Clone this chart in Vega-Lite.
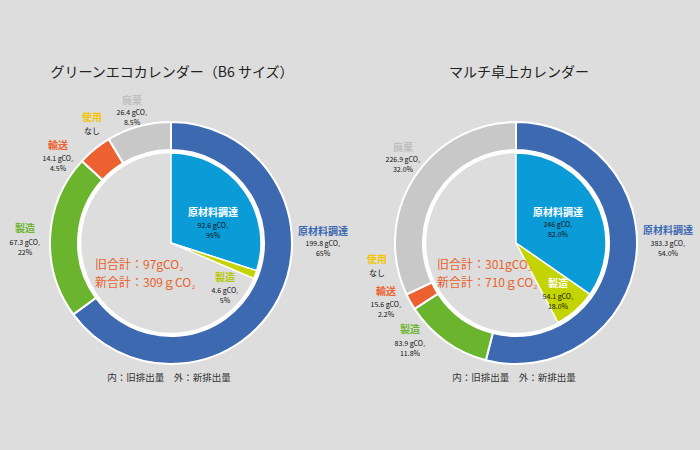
{
  "$schema": "https://vega.github.io/schema/vega-lite/v6.json",
  "background": "#dcdddc",
  "padding": {"left": 5, "top": 36, "right": 8, "bottom": 0},
  "bounds": "flush",
  "spacing": 13,
  "config": {"view": {"stroke": null}, "font": "Noto Sans CJK JP"},
  "hconcat": [
    {
      "width": 332,
      "height": 414,
      "data": {"values": [
        {"ring": "外", "stage": 1, "cat": "原材料調達", "value": 199.8, "detail": "199.8 gCO₂\n65%"},
        {"ring": "外", "stage": 2, "cat": "製造", "value": 67.3, "detail": "67.3 gCO₂\n22%"},
        {"ring": "外", "stage": 3, "cat": "輸送", "value": 14.1, "detail": "14.1 gCO₂\n4.5%"},
        {"ring": "外", "stage": 4, "cat": "使用", "value": 0, "detail": "なし"},
        {"ring": "外", "stage": 5, "cat": "廃棄", "value": 26.4, "detail": "26.4 gCO₂\n8.5%"},
        {"ring": "内", "stage": 1, "cat": "原材料調達", "value": 92.6, "detail": "92.6 gCO₂\n95%"},
        {"ring": "内", "stage": 2, "cat": "製造", "value": 4.6, "detail": "4.6 gCO₂\n5%"}
      ]},
      "layer": [
        {
          "transform": [{"filter": "datum.ring === '外'"}],
          "mark": {"type": "arc", "radius": 121, "radius2": 93, "stroke": "#ffffff", "strokeWidth": 2},
          "encoding": {
            "theta": {"field": "value", "type": "quantitative", "stack": true},
            "order": {"field": "stage", "type": "quantitative"},
            "color": {"field": "cat", "type": "nominal", "legend": null,
              "scale": {"domain": ["原材料調達", "製造", "輸送", "使用", "廃棄"], "range": ["#3d69b1", "#6ab42e", "#ec612f", "#f5c400", "#c8c8c8"]}}
          }
        },
        {
          "data": {"values": [{}]},
          "mark": {"type": "arc", "radius": 91, "theta": 0, "theta2": 6.2832, "fill": "#dcdddc", "stroke": "#ffffff", "strokeWidth": 2.5},
          "encoding": {}
        },
        {
          "transform": [{"filter": "datum.ring === '内'"}],
          "mark": {"type": "arc", "radius": 90, "stroke": "#ffffff", "strokeWidth": 1.5},
          "encoding": {
            "theta": {"field": "value", "type": "quantitative", "stack": true, "scale": {"domain": [0, 309]}},
            "order": {"field": "stage", "type": "quantitative"},
            "color": {"field": "cat", "type": "nominal", "legend": null,
              "scale": {"domain": ["原材料調達", "製造"], "range": ["#0b9bd7", "#c3d400"]}}
          }
        },
        {
          "transform": [{"filter": "datum.ring === '外' && datum.cat === '原材料調達'"}],
          "layer": [
            {"mark": {"type": "text", "dx": 152, "dy": -11, "fontSize": 10, "fontWeight": "bold", "fill": "#3d69b1", "baseline": "middle"}, "encoding": {"text": {"field": "cat"}}},
            {"mark": {"type": "text", "dx": 152, "dy": -3, "fontSize": 7, "lineHeight": 9.5, "lineBreak": "\n", "fill": "#111111", "baseline": "top"}, "encoding": {"text": {"field": "detail"}}}
          ]
        },
        {
          "transform": [{"filter": "datum.ring === '外' && datum.cat === '製造'"}],
          "layer": [
            {"mark": {"type": "text", "dx": -146, "dy": -14, "fontSize": 10, "fontWeight": "bold", "fill": "#6ab42e", "baseline": "middle"}, "encoding": {"text": {"field": "cat"}}},
            {"mark": {"type": "text", "dx": -146, "dy": -4, "fontSize": 7, "lineHeight": 9.5, "lineBreak": "\n", "fill": "#111111", "baseline": "top"}, "encoding": {"text": {"field": "detail"}}}
          ]
        },
        {
          "transform": [{"filter": "datum.ring === '外' && datum.cat === '輸送'"}],
          "layer": [
            {"mark": {"type": "text", "dx": -113, "dy": -97, "fontSize": 10, "fontWeight": "bold", "fill": "#ec612f", "baseline": "middle"}, "encoding": {"text": {"field": "cat"}}},
            {"mark": {"type": "text", "dx": -113, "dy": -88, "fontSize": 7, "lineHeight": 9.5, "lineBreak": "\n", "fill": "#111111", "baseline": "top"}, "encoding": {"text": {"field": "detail"}}}
          ]
        },
        {
          "transform": [{"filter": "datum.ring === '外' && datum.cat === '使用'"}],
          "layer": [
            {"mark": {"type": "text", "dx": -79, "dy": -125, "fontSize": 10, "fontWeight": "bold", "fill": "#f5c400", "baseline": "middle"}, "encoding": {"text": {"field": "cat"}}},
            {"mark": {"type": "text", "dx": -79, "dy": -115, "fontSize": 8, "lineHeight": 9.5, "lineBreak": "\n", "fill": "#111111", "baseline": "top"}, "encoding": {"text": {"field": "detail"}}}
          ]
        },
        {
          "transform": [{"filter": "datum.ring === '外' && datum.cat === '廃棄'"}],
          "layer": [
            {"mark": {"type": "text", "dx": -39, "dy": -142, "fontSize": 10, "fontWeight": "bold", "fill": "#c0c0c0", "baseline": "middle"}, "encoding": {"text": {"field": "cat"}}},
            {"mark": {"type": "text", "dx": -39, "dy": -134, "fontSize": 7, "lineHeight": 9.5, "lineBreak": "\n", "fill": "#111111", "baseline": "top"}, "encoding": {"text": {"field": "detail"}}}
          ]
        },
        {
          "transform": [{"filter": "datum.ring === '内' && datum.cat === '原材料調達'"}],
          "layer": [
            {"mark": {"type": "text", "dx": 42, "dy": -30, "fontSize": 10, "fontWeight": "bold", "fill": "#ffffff", "baseline": "middle"}, "encoding": {"text": {"field": "cat"}}},
            {"mark": {"type": "text", "dx": 42, "dy": -21, "fontSize": 7, "lineHeight": 9.5, "lineBreak": "\n", "fill": "#111111", "baseline": "top"}, "encoding": {"text": {"field": "detail"}}}
          ]
        },
        {
          "transform": [{"filter": "datum.ring === '内' && datum.cat === '製造'"}],
          "layer": [
            {"mark": {"type": "text", "dx": 54, "dy": 35, "fontSize": 10, "fontWeight": "bold", "fill": "#b5c800", "baseline": "middle"}, "encoding": {"text": {"field": "cat"}}},
            {"mark": {"type": "text", "dx": 54, "dy": 44, "fontSize": 7, "lineHeight": 10, "lineBreak": "\n", "fill": "#111111", "baseline": "top"}, "encoding": {"text": {"field": "detail"}}}
          ]
        },
        {
          "data": {"values": [{}]},
          "layer": [
            {"mark": {"type": "text", "text": "グリーンエコカレンダー（B6 サイズ）", "dx": 1, "dy": -170, "fontSize": 14, "fill": "#222222", "baseline": "middle"}, "encoding": {}},
            {"mark": {"type": "text", "text": "内：旧排出量　外：新排出量", "dx": -2, "dy": 135, "fontSize": 9.5, "fill": "#333333", "baseline": "middle"}, "encoding": {}},
            {"mark": {"type": "text", "text": "旧合計：97gCO₂", "dx": -76, "dy": 22, "fontSize": 12, "fill": "#e9622c", "align": "left", "baseline": "middle"}, "encoding": {}},
            {"mark": {"type": "text", "text": "新合計：309ｇCO₂", "dx": -76, "dy": 40, "fontSize": 12, "fill": "#e9622c", "align": "left", "baseline": "middle"}, "encoding": {}}
          ]
        }
      ],
      "resolve": {"scale": {"theta": "independent", "color": "independent"}}
    },
    {
      "width": 332,
      "height": 414,
      "data": {"values": [
        {"ring": "外", "stage": 1, "cat": "原材料調達", "value": 383.3, "detail": "383.3 gCO₂\n54.0%"},
        {"ring": "外", "stage": 2, "cat": "製造", "value": 83.9, "detail": "83.9 gCO₂\n11.8%"},
        {"ring": "外", "stage": 3, "cat": "輸送", "value": 15.6, "detail": "15.6 gCO₂\n2.2%"},
        {"ring": "外", "stage": 4, "cat": "使用", "value": 0, "detail": "なし"},
        {"ring": "外", "stage": 5, "cat": "廃棄", "value": 226.9, "detail": "226.9 gCO₂\n32.0%"},
        {"ring": "内", "stage": 1, "cat": "原材料調達", "value": 246, "detail": "246 gCO₂\n82.0%"},
        {"ring": "内", "stage": 2, "cat": "製造", "value": 54.1, "detail": "54.1 gCO₂\n18.0%"}
      ]},
      "layer": [
        {
          "transform": [{"filter": "datum.ring === '外'"}],
          "mark": {"type": "arc", "radius": 121, "radius2": 93, "stroke": "#ffffff", "strokeWidth": 2},
          "encoding": {
            "theta": {"field": "value", "type": "quantitative", "stack": true},
            "order": {"field": "stage", "type": "quantitative"},
            "color": {"field": "cat", "type": "nominal", "legend": null,
              "scale": {"domain": ["原材料調達", "製造", "輸送", "使用", "廃棄"], "range": ["#3d69b1", "#6ab42e", "#ec612f", "#f5c400", "#c8c8c8"]}}
          }
        },
        {
          "data": {"values": [{}]},
          "mark": {"type": "arc", "radius": 91, "theta": 0, "theta2": 6.2832, "fill": "#dcdddc", "stroke": "#ffffff", "strokeWidth": 2.5},
          "encoding": {}
        },
        {
          "transform": [{"filter": "datum.ring === '内'"}],
          "mark": {"type": "arc", "radius": 90, "stroke": "#ffffff", "strokeWidth": 1.5},
          "encoding": {
            "theta": {"field": "value", "type": "quantitative", "stack": true, "scale": {"domain": [0, 710]}},
            "order": {"field": "stage", "type": "quantitative"},
            "color": {"field": "cat", "type": "nominal", "legend": null,
              "scale": {"domain": ["原材料調達", "製造"], "range": ["#0b9bd7", "#c3d400"]}}
          }
        },
        {
          "transform": [{"filter": "datum.ring === '外' && datum.cat === '原材料調達'"}],
          "layer": [
            {"mark": {"type": "text", "dx": 152, "dy": -12, "fontSize": 10, "fontWeight": "bold", "fill": "#3d69b1", "baseline": "middle"}, "encoding": {"text": {"field": "cat"}}},
            {"mark": {"type": "text", "dx": 152, "dy": -3, "fontSize": 7, "lineHeight": 9.5, "lineBreak": "\n", "fill": "#111111", "baseline": "top"}, "encoding": {"text": {"field": "detail"}}}
          ]
        },
        {
          "transform": [{"filter": "datum.ring === '外' && datum.cat === '製造'"}],
          "layer": [
            {"mark": {"type": "text", "dx": -106, "dy": 87, "fontSize": 10, "fontWeight": "bold", "fill": "#6ab42e", "baseline": "middle"}, "encoding": {"text": {"field": "cat"}}},
            {"mark": {"type": "text", "dx": -106, "dy": 97, "fontSize": 7, "lineHeight": 9.5, "lineBreak": "\n", "fill": "#111111", "baseline": "top"}, "encoding": {"text": {"field": "detail"}}}
          ]
        },
        {
          "transform": [{"filter": "datum.ring === '外' && datum.cat === '輸送'"}],
          "layer": [
            {"mark": {"type": "text", "dx": -130, "dy": 49, "fontSize": 10, "fontWeight": "bold", "fill": "#ec612f", "baseline": "middle"}, "encoding": {"text": {"field": "cat"}}},
            {"mark": {"type": "text", "dx": -130, "dy": 58, "fontSize": 7, "lineHeight": 9.5, "lineBreak": "\n", "fill": "#111111", "baseline": "top"}, "encoding": {"text": {"field": "detail"}}}
          ]
        },
        {
          "transform": [{"filter": "datum.ring === '外' && datum.cat === '使用'"}],
          "layer": [
            {"mark": {"type": "text", "dx": -139, "dy": 17, "fontSize": 10, "fontWeight": "bold", "fill": "#f5c400", "baseline": "middle"}, "encoding": {"text": {"field": "cat"}}},
            {"mark": {"type": "text", "dx": -139, "dy": 27, "fontSize": 8, "lineHeight": 9.5, "lineBreak": "\n", "fill": "#111111", "baseline": "top"}, "encoding": {"text": {"field": "detail"}}}
          ]
        },
        {
          "transform": [{"filter": "datum.ring === '外' && datum.cat === '廃棄'"}],
          "layer": [
            {"mark": {"type": "text", "dx": -113, "dy": -95, "fontSize": 10, "fontWeight": "bold", "fill": "#c0c0c0", "baseline": "middle"}, "encoding": {"text": {"field": "cat"}}},
            {"mark": {"type": "text", "dx": -113, "dy": -87, "fontSize": 7, "lineHeight": 10, "lineBreak": "\n", "fill": "#111111", "baseline": "top"}, "encoding": {"text": {"field": "detail"}}}
          ]
        },
        {
          "transform": [{"filter": "datum.ring === '内' && datum.cat === '原材料調達'"}],
          "layer": [
            {"mark": {"type": "text", "dx": 42, "dy": -30, "fontSize": 10, "fontWeight": "bold", "fill": "#ffffff", "baseline": "middle"}, "encoding": {"text": {"field": "cat"}}},
            {"mark": {"type": "text", "dx": 42, "dy": -22, "fontSize": 7, "lineHeight": 10, "lineBreak": "\n", "fill": "#111111", "baseline": "top"}, "encoding": {"text": {"field": "detail"}}}
          ]
        },
        {
          "transform": [{"filter": "datum.ring === '内' && datum.cat === '製造'"}],
          "layer": [
            {"mark": {"type": "text", "dx": 42, "dy": 41, "fontSize": 10, "fontWeight": "bold", "fill": "#ffffff", "baseline": "middle"}, "encoding": {"text": {"field": "cat"}}},
            {"mark": {"type": "text", "dx": 42, "dy": 50, "fontSize": 7, "lineHeight": 10, "lineBreak": "\n", "fill": "#111111", "baseline": "top"}, "encoding": {"text": {"field": "detail"}}}
          ]
        },
        {
          "data": {"values": [{}]},
          "layer": [
            {"mark": {"type": "text", "text": "マルチ卓上カレンダー", "dx": 3, "dy": -170, "fontSize": 14, "fill": "#222222", "baseline": "middle"}, "encoding": {}},
            {"mark": {"type": "text", "text": "内：旧排出量　外：新排出量", "dx": -2, "dy": 135, "fontSize": 9.5, "fill": "#333333", "baseline": "middle"}, "encoding": {}},
            {"mark": {"type": "text", "text": "旧合計：301gCO₂", "dx": -79, "dy": 22, "fontSize": 12, "fill": "#e9622c", "align": "left", "baseline": "middle"}, "encoding": {}},
            {"mark": {"type": "text", "text": "新合計：710ｇCO₂", "dx": -79, "dy": 40, "fontSize": 12, "fill": "#e9622c", "align": "left", "baseline": "middle"}, "encoding": {}}
          ]
        }
      ],
      "resolve": {"scale": {"theta": "independent", "color": "independent"}}
    }
  ]
}
